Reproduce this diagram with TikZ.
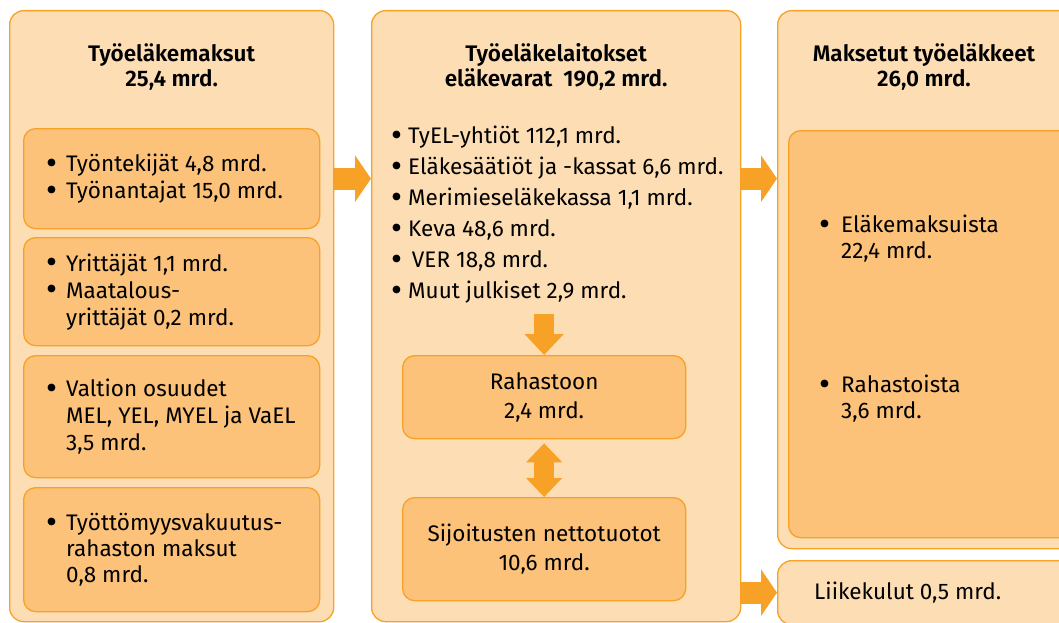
\documentclass[tikz,border=0pt]{standalone}
\usepackage{fontspec}
\setmainfont{Fira Sans}[BoldFont={Fira Sans SemiBold}]
\usetikzlibrary{arrows.meta,positioning}

\definecolor{peach}{HTML}{FDDDB3}
\definecolor{apricot}{HTML}{FCC27A}
\definecolor{amber}{HTML}{F7A126}

\newcommand{\bul}[1][20pt]{\makebox[#1][l]{\smash{\raisebox{-0.12em}{\scalebox{1.5}{\textbullet}}}}}
\newcommand{\ind}[1][20pt]{\hspace*{#1}}

\begin{document}
\begin{tikzpicture}[x=1pt,y=1pt,
  outer/.style={draw=amber,line width=1.3pt,fill=peach,rounded corners=14pt,anchor=north west,inner sep=0pt},
  inner/.style={draw=amber,line width=1.3pt,fill=apricot,rounded corners=12pt,anchor=north west,inner sep=0pt,align=center,font=\fontsize{22.5}{29}\selectfont},
  title/.style={font=\bfseries\fontsize{22.5}{25}\selectfont,align=center,inner sep=0pt},
  txt/.style={font=\fontsize{22.5}{27}\selectfont,align=left,inner sep=0pt},
  fat/.style={amber,line width=22pt,-{Triangle[width=46pt,length=16pt]}},
  slim/.style={amber,line width=20pt,-{Triangle[width=38pt,length=21pt]}},
  twin/.style={amber,line width=20pt,{Triangle[width=35pt,length=19pt]}-{Triangle[width=35pt,length=19pt]}}]
\useasboundingbox (0,0) rectangle (1059,-623);

% main columns
\node[outer,minimum width=324,minimum height=611] (pay) at (9,-10) {};
\node[outer,minimum width=369,minimum height=611] (inst) at (371,-10) {};
\node[outer,minimum width=300,minimum height=538] (paid) at (777,-10) {};
\node[outer,minimum width=300,minimum height=64] (cost) at (777,-560) {};

\node[title,below=33pt of pay.north] (paytitle) {Työeläkemaksut\\25,4 mrd.};
\node[title,below=33pt of inst.north] (insttitle) {Työeläkelaitokset\\eläkevarat~~190,2 mrd.};
\node[title,at={(924,-10)},below=33pt] (paidtitle) {Maksetut työeläkkeet\\26,0 mrd.};

% contributions
\node[inner,minimum width=296,minimum height=100] (emp) at (23,-128) {};
\node[inner,minimum width=296,minimum height=108] (ent) at (23,-237) {};
\node[inner,minimum width=296,minimum height=122] (state) at (23,-355) {};
\node[inner,minimum width=296,minimum height=124] (unemp) at (23,-487) {};

\node[txt,right=23pt of emp.west] (empt) {\bul Työntekijät 4,8 mrd.\\\bul Työnantajat 15,0 mrd.};
\node[txt,right=23pt of ent.west] (entt) {\bul Yrittäjät 1,1 mrd.\\\bul Maatalous-\\\ind yrittäjät 0,2 mrd.};
\node[txt,right=23pt of state.west] (statet) {\bul Valtion osuudet\\\ind MEL, YEL, MYEL ja VaEL\\\ind 3,5 mrd.};
\node[txt,right=23pt of unemp.west,font=\fontsize{22.5}{26}\selectfont] (unempt) {\bul Työttömyysvakuutus-\\\ind rahaston maksut\\\ind 0,8 mrd.};

% institutions
\node[txt,anchor=north west,font=\fontsize{22.5}{31}\selectfont] (instt) at (391,-126) {\bul[17pt]TyEL-yhtiöt 112,1 mrd.\\\bul[17pt]Eläkesäätiöt ja -kassat 6,6 mrd.\\\bul[17pt]Merimieseläkekassa 1,1 mrd.\\\bul[17pt]Keva 48,6 mrd.\\\bul[17pt]\,VER 18,8 mrd.\\\bul[17pt]Muut julkiset 2,9 mrd.};
\node[inner,minimum width=283,minimum height=83] (fund) at (402,-355) {Rahastoon\\2,4 mrd.};
\node[inner,minimum width=283,minimum height=103] (yield) at (402,-497) {Sijoitusten nettotuotot\\10,6 mrd.};

% pensions paid
\node[inner,minimum width=290,minimum height=407] (paidin) at (788,-130) {};
\node[txt,anchor=north west,font=\fontsize{22.5}{26}\selectfont] (frompay) at (819,-215) {\bul[22pt]Eläkemaksuista\\\ind[22pt]22,4 mrd.};
\node[txt,anchor=north west,font=\fontsize{22.5}{26}\selectfont] (fromfund) at (819,-375) {\bul[22pt]Rahastoista\\\ind[22pt]3,6 mrd.};
\node[txt,right=37pt of cost.west] (costt) {Liikekulut 0,5 mrd.};

% flows
\coordinate (drop) at ([yshift=41pt]fund.north);
\draw[fat] (emp -| pay.east) -- (emp -| inst.west);
\draw[fat] (emp -| inst.east) -- (emp -| paid.west);
\draw[fat] (cost -| inst.east) -- (cost.west);
\draw[slim] (drop) -- (fund.north);
\draw[twin,shorten <=4pt] (fund.south) -- (yield.north);

\end{tikzpicture}
\end{document}
